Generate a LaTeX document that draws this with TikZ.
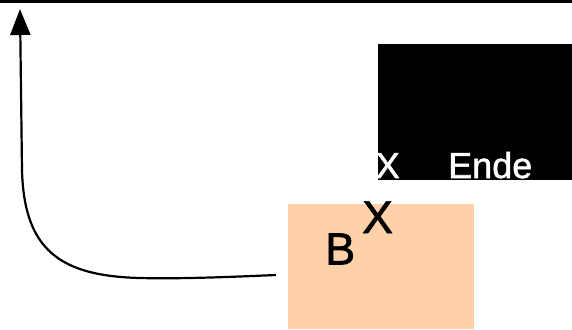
\documentclass[tikz,border=0pt]{standalone}
\usepackage{fontspec}
\setmainfont{Liberation Sans}
\newfontfamily\heavysans{Liberation Sans}[FakeBold=1.5]
\usetikzlibrary{arrows.meta}

\definecolor{peach}{HTML}{FFD1A8}

\begin{document}
\begin{tikzpicture}[x=1pt, y=-1pt,
    lbl/.style={inner sep=0pt, anchor=base west},
    box/.style={inner sep=0pt, minimum width=#1, anchor=north west}]

\useasboundingbox (0,0) rectangle (572,329);

% Top rule
\fill[black] (0,0) rectangle (572,3.3);

% Black box with white labels
\node[box=194pt, minimum height=136pt, fill=black] (endbox) at (378,44) {};
\node[lbl, text=white, font=\heavysans\fontsize{36}{40}\selectfont] (xwhite) at (375.5,178) {X};
\node[lbl, text=white, font=\heavysans\fontsize{36}{40}\selectfont] (ende) at (448,178) {Ende};

% Peach box with B and X
\node[box=186pt, minimum height=125pt, fill=peach] (bbox) at (288,204) {};
\node[lbl, font=\heavysans\fontsize{45}{50}\selectfont] (b) at (325,264.5) {B};
\node[lbl, font=\heavysans\fontsize{46}{50}\selectfont] (xblack) at (362,233) {X};

% Curved arrow up the left side
\coordinate (start) at (276,275);
\coordinate (tip) at (20,9);
\draw[line width=2.2pt, -{Triangle[length=26pt, width=20pt]}]
    (start) .. controls (230,277) and (180,279) .. (140,278)
    .. controls (60,276) and (24,250) .. (22,170) -- (tip);

\end{tikzpicture}
\end{document}
